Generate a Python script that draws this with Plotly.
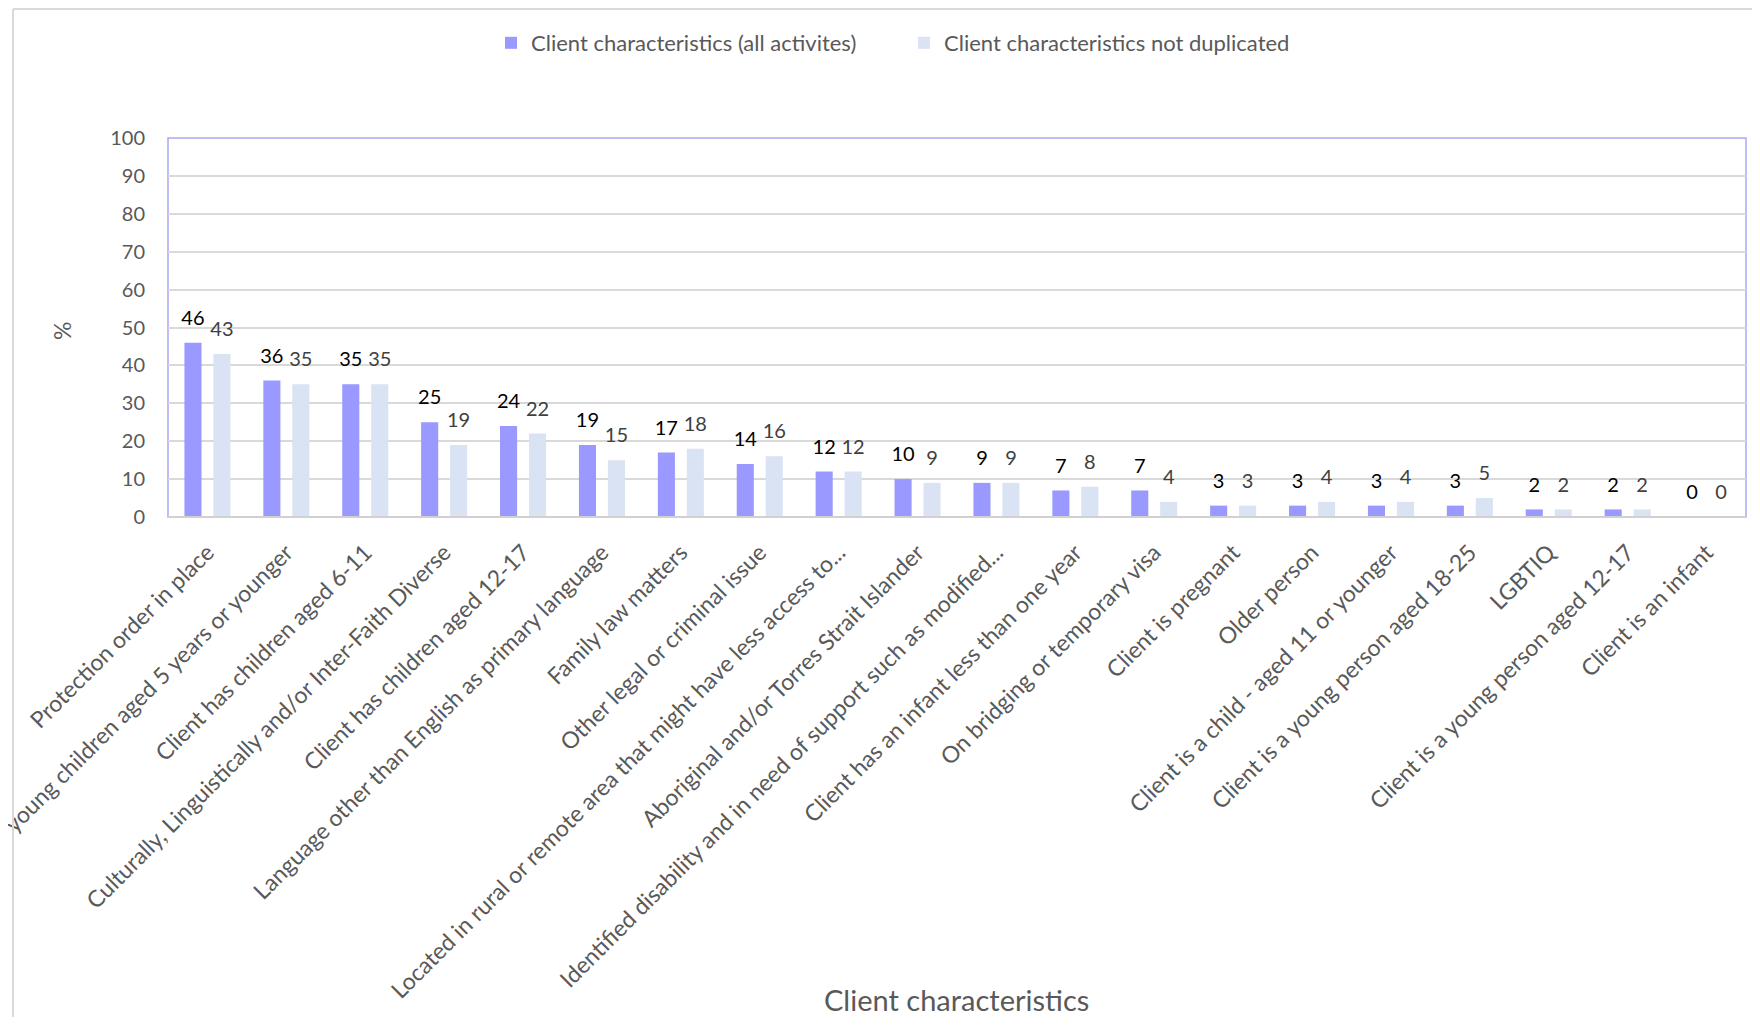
import plotly.graph_objects as go

categories = [
    "Protection order in place",
    "young children aged 5 years or younger",
    "Client has children aged 6-11",
    "Culturally, Linguistically and/or Inter-Faith Diverse",
    "Client has children aged 12-17",
    "Language other than English as primary language",
    "Family law matters",
    "Other legal or criminal issue",
    "Located in rural or remote area that might have less access to...",
    "Aboriginal and/or Torres Strait Islander",
    "Identified disability and in need of support such as modified...",
    "Client has an infant less than one year",
    "On bridging or temporary visa",
    "Client is pregnant",
    "Older person",
    "Client is a child - aged 11 or younger",
    "Client is a young person aged 18-25",
    "LGBTIQ",
    "Client is a young person aged 12-17",
    "Client is an infant",
]
all_activities = [46, 36, 35, 25, 24, 19, 17, 14, 12, 10, 9, 7, 7, 3, 3, 3, 3, 2, 2, 0]
not_duplicated = [43, 35, 35, 19, 22, 15, 18, 16, 12, 9, 9, 8, 4, 3, 4, 4, 5, 2, 2, 0]

FONT = "Lato, Carlito, Calibri, sans-serif"
GAP = 0.266

# page has an 8px body margin, so figure coords = screen coords - 8
W, H = 1744, 1009
L, R, T, B = 160, 1738, 130, 509

def px_x(x):
    return (x - L) / (R - L)

def px_y(y):
    return (B - y) / (B - T)

fig = go.Figure()
fig.add_trace(go.Bar(
    x=categories, y=all_activities, name="Client characteristics (all activites)",
    marker=dict(color="#9999ff", line=dict(width=0)),
))
fig.add_trace(go.Bar(
    x=categories, y=not_duplicated, name="Client characteristics not duplicated",
    marker=dict(color="#dae3f3", line=dict(width=0)),
))

# data labels: grouped scatter text sitting above each bar
for vals, col in [(all_activities, "#000000"), (not_duplicated, "#404040")]:
    fig.add_trace(go.Scatter(
        x=categories, y=vals, mode="markers+text", text=vals, textposition="top center",
        marker=dict(size=19, opacity=0), textfont=dict(family=FONT, size=20, color=col),
        cliponaxis=False, showlegend=False, hoverinfo="skip",
    ))

fig.update_layout(
    width=W, height=H,
    margin=dict(l=L, r=W - R, t=T, b=H - B, autoexpand=False),
    plot_bgcolor="white", paper_bgcolor="white",
    font=dict(family=FONT, color="#595959"),
    barmode="group", bargap=GAP, bargroupgap=0.41,
    scattermode="group", scattergap=GAP,
    legend=dict(orientation="h", x=px_x(896), y=px_y(35), xanchor="center", yanchor="middle",
                font=dict(family=FONT, size=22, color="#595959"), itemwidth=30,
                entrywidth=368, entrywidthmode="pixels", traceorder="normal"),
    showlegend=True,
)
fig.update_xaxes(
    tickangle=-45, tickfont=dict(family=FONT, size=23, color="#595959"),
    ticks="outside", ticklen=12, tickcolor="rgba(0,0,0,0)",
    showgrid=False, showline=False, automargin=False,
)
fig.update_yaxes(
    range=[0, 100], dtick=10, tickfont=dict(family=FONT, size=20, color="#595959"),
    gridcolor="#d9d9d9", gridwidth=1.5, zeroline=False, showline=False,
    ticks="outside", ticklen=18, tickcolor="rgba(0,0,0,0)", automargin=False,
)

# plot-area border and chart frame
fig.add_shape(type="rect", xref="paper", yref="paper", x0=0, x1=1, y0=0, y1=1,
              line=dict(color="#a9a9f5", width=1.5), layer="below")
fig.add_shape(type="line", xref="paper", yref="paper", x0=0, x1=1, y0=0, y1=0,
              line=dict(color="#d0d0d0", width=2))
fig.add_shape(type="line", xref="paper", yref="paper", x0=px_x(5), x1=px_x(1800), y0=px_y(1), y1=px_y(1),
              line=dict(color="#d9d9d9", width=2))
fig.add_shape(type="line", xref="paper", yref="paper", x0=px_x(5), x1=px_x(5), y0=px_y(1), y1=px_y(1100),
              line=dict(color="#d9d9d9", width=2))

fig.add_annotation(text="%", xref="paper", yref="paper", x=px_x(54), y=px_y(323),
                   xanchor="center", yanchor="middle",
                   showarrow=False, textangle=-90, font=dict(family=FONT, size=23, color="#595959"))
fig.add_annotation(text="Client characteristics", xref="paper", yref="paper", x=px_x(948), y=px_y(991),
                   xanchor="center", yanchor="middle",
                   showarrow=False, font=dict(family=FONT, size=29, color="#595959"))

fig.write_html("out.html")
